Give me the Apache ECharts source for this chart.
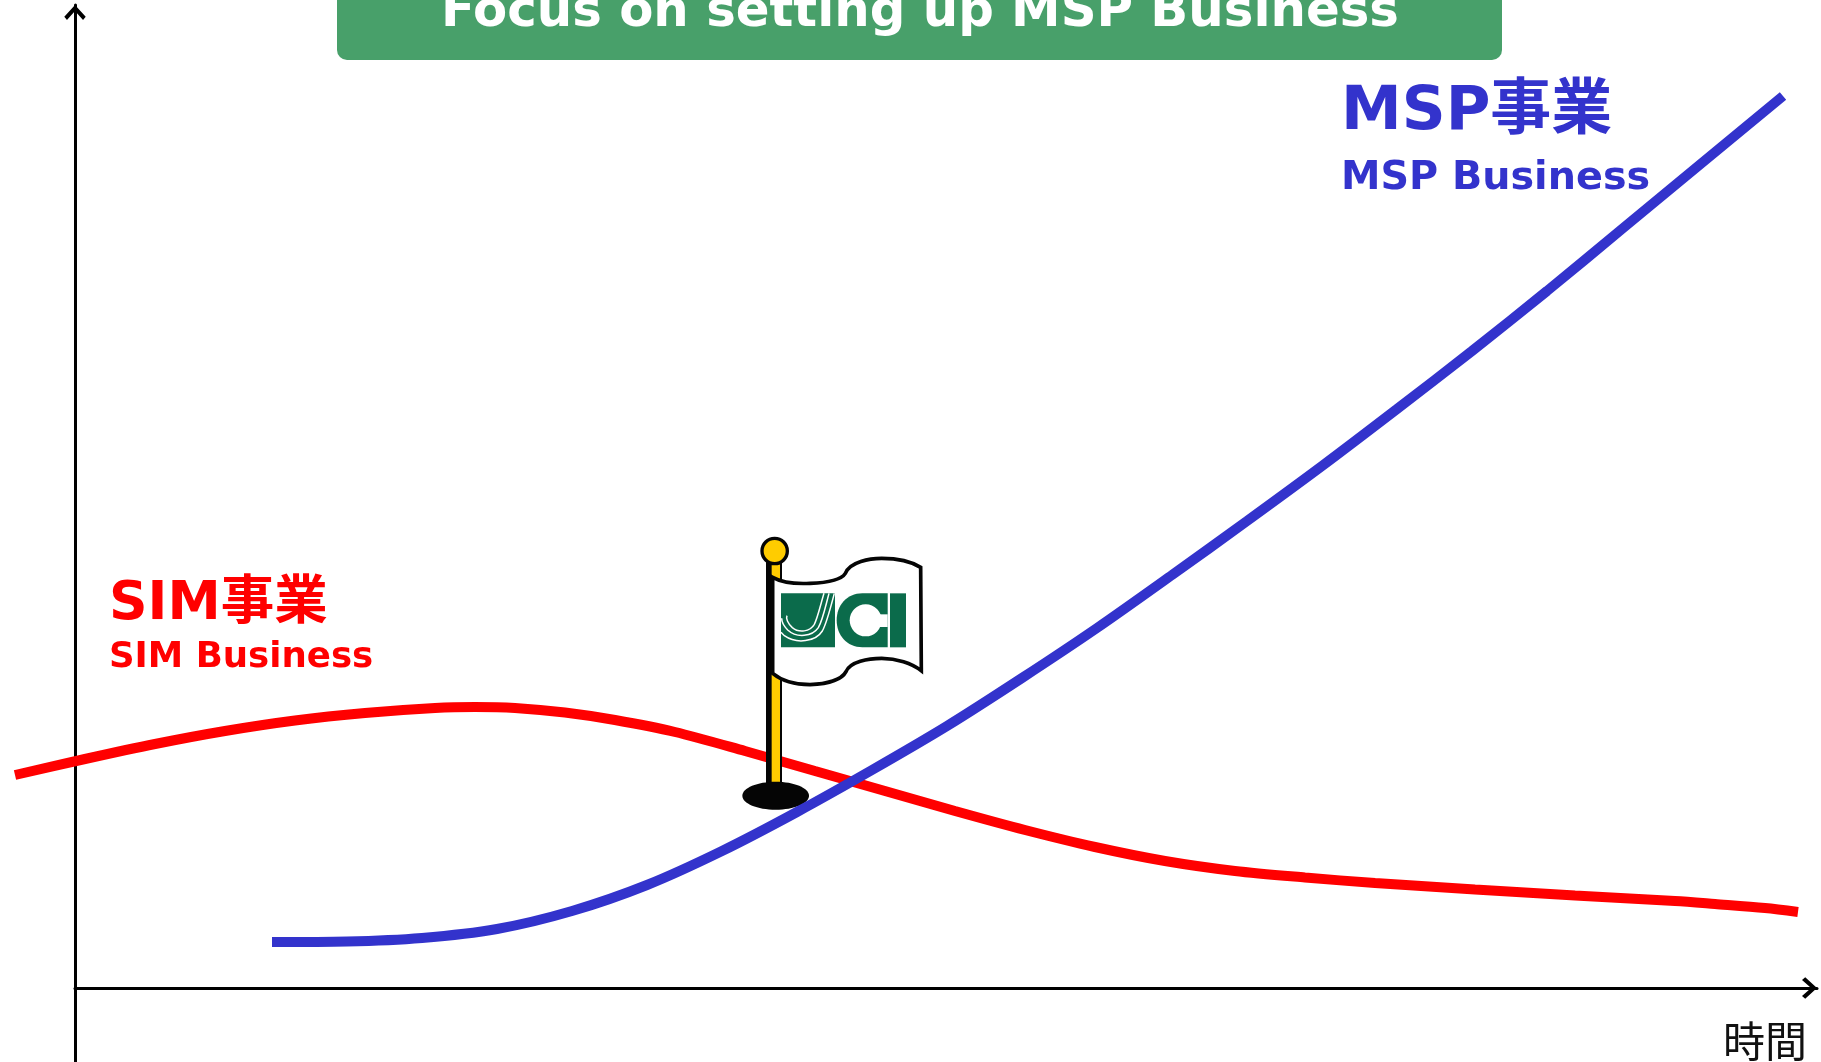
<!DOCTYPE html>
<html>
<head>
<meta charset="utf-8">
<style>html,body{margin:0;padding:0;background:#fff;overflow:hidden}#c{width:1821px;height:1062px}</style>
<script src="https://cdn.jsdelivr.net/npm/echarts@6/dist/echarts.min.js"></script>
</head>
<body>
<div id="c"></div>
<script>
// Values: [time, level] above the axis origin.
const simBusiness = [[-60,213],[10,229],[80,244],[150,257],[220,267.5],[290,275],[360,280],[400,281],[440,280],[490,275.5],[540,268],[600,256],[670,237],[740,217],[810,197],[880,177],[950,158],[1020,141],[1090,127],[1160,117],[1230,110.5],[1300,105],[1400,98.5],[1500,92.5],[1600,87],[1640,84],[1690,80],[1723,76]];
const mspBusiness = [[197,46],[272,46.5],[347,50],[422,59],[497,77],[572,103],[647,137],[722,176],[797,218],[872,262],[947,310],[1022,360],[1097,413],[1172,467],[1247,522],[1322,579],[1397,637],[1472,697],[1547,759],[1622,821],[1708,892]];
const timeLabel = '時間';
const bannerText = 'Focus on setting up MSP Business';
const simLabels = ['SIM事業', 'SIM Business'];
const mspLabels = ['MSP事業', 'MSP Business'];

const latin = '"DejaVu Sans","Noto Sans CJK JP",sans-serif';
const cjk = '"Noto Sans CJK JP",sans-serif';
const RED = '#FF0000', BLUE = '#3333CC', GREEN = '#48A06A', LOGO = '#0B6B4B';
const chevron = 'path://M0,11 L10,0 L20,11 L17.5,14 L10,5.5 L2.5,14 Z';

// Drawn shapes of the flag, registered so the graphic component can use them.
function reg(name, d){ echarts.graphic.registerShape(name, echarts.graphic.extendPath(d)); }
reg('flagCloth','M218,202 C250,220 290,222 330,220 C385,218 425,208 436,190 C450,155 510,145 545,145 C590,145 635,155 662,172 L664,482 C635,460 590,445 545,445 C505,445 450,455 438,485 C425,510 380,522 330,524 C285,524 245,512 218,490 Z');
reg('logoS1','M147,25 C135,65 128,98 118,118 C105,140 72,145 52,128 C38,115 32,100 36,92');
reg('logoS2','M162,25 C150,70 143,105 130,128 C112,155 65,160 38,135 C25,122 20,110 20,100');
reg('logoS3','M178,25 C165,75 155,115 142,138 C122,170 65,178 28,152 L18,142');
reg('logoC','M262,25 L338,25 L338,187 L262,187 C215,187 185,150 185,106 C185,62 215,25 262,25 Z');

const chart = echarts.init(document.getElementById('c'), null, {renderer:'canvas'});
function axisBase(){return {
  type:'value', splitLine:{show:false}, axisTick:{show:false}, axisLabel:{show:false},
  axisLine:{show:true, onZero:true, symbol:['none',chevron], symbolSize:[24,15], symbolOffset:[0,-7.5],
            lineStyle:{color:'#000', width:3}}
};}
const txt = (x,y,s,size,color,font,weight) => ({type:'text', z:10, x, y, silent:true,
  style:{text:s, fill:color, font:`${weight} ${size}px ${font}`}});
const stripe = {fill:'none',stroke:'#fff',lineWidth:4.5};
const flag = {
  type:'group', x:700, y:510, scaleX:1/3, scaleY:1/3, silent:true,
  children:[
    {type:'rect', z:3, shape:{x:200,y:130,width:44,height:700}, style:{fill:'#FFCC00'}},
    {type:'rect', z:3, shape:{x:198,y:130,width:17,height:700}, style:{fill:'#050505'}},
    {type:'rect', z:3, shape:{x:240,y:130,width:6,height:700}, style:{fill:'#050505'}},
    {type:'circle', z:3, shape:{cx:224,cy:123,r:38}, style:{fill:'#FFCC00',stroke:'#050505',lineWidth:10}},
    {type:'ellipse', z:3, shape:{cx:227,cy:857,rx:100,ry:42}, style:{fill:'#050505'}},
    {type:'flagCloth', z:3, style:{fill:'#fff',stroke:'#050505',lineWidth:11}},
    {type:'group', x:225, y:225, children:[
      {type:'rect', z:4, shape:{x:18,y:25,width:162,height:162}, style:{fill:LOGO}},
      {type:'logoS1', z:4, style:stripe},
      {type:'logoS2', z:4, style:stripe},
      {type:'logoS3', z:4, style:stripe},
      {type:'logoC', z:4, style:{fill:LOGO}},
      {type:'circle', z:4, shape:{cx:272,cy:106,r:48}, style:{fill:'#fff'}},
      {type:'rect', z:4, shape:{x:272,y:88,width:66,height:38}, style:{fill:'#fff'}},
      {type:'rect', z:4, shape:{x:345,y:25,width:48,height:162}, style:{fill:LOGO}}
    ]}
  ]
};
chart.setOption({
  animation:false,
  backgroundColor:'#fff',
  // Grid 0 carries the visible axes; grid 1 is the same scale widened to the page edge,
  // because the SIM curve starts left of the vertical axis.
  grid:[
    {left:75, top:5, right:4, bottom:0},
    {left:0, top:5, right:4, bottom:0}
  ],
  xAxis:[
    Object.assign(axisBase(),{gridIndex:0, min:0, max:1742, name:timeLabel, nameLocation:'end', nameGap:-52,
      nameTextStyle:{fontFamily:cjk, fontSize:42, color:'#111', align:'center', verticalAlign:'top', padding:[32,0,0,0]}}),
    {type:'value', gridIndex:1, min:-75, max:1742, show:false}
  ],
  yAxis:[
    Object.assign(axisBase(),{gridIndex:0, min:-74, max:983}),
    {type:'value', gridIndex:1, min:-74, max:983, show:false}
  ],
  graphic:[
    {type:'rect', z:8, silent:true, shape:{x:337,y:-20,width:1165,height:80,r:10}, style:{fill:GREEN}},
    txt(441,-12,bannerText,49.8,'#fff',latin,'bold'),
    txt(109,578,simLabels[0],53.5,RED,latin,'bold'),
    txt(109,640,simLabels[1],35.6,RED,latin,'bold'),
    txt(1341,83,mspLabels[0],61,BLUE,latin,'bold'),
    txt(1341,159,mspLabels[1],39.7,BLUE,latin,'bold'),
    flag
  ],
  series:[
    {name:simLabels[1], type:'line', xAxisIndex:1, yAxisIndex:1, data:simBusiness, smooth:0.3, showSymbol:false, clip:false, z:2, silent:true,
     lineStyle:{color:RED,width:10,cap:'butt'}},
    {name:mspLabels[1], type:'line', xAxisIndex:1, yAxisIndex:1, data:mspBusiness, smooth:0.3, showSymbol:false, clip:false, z:4, silent:true,
     lineStyle:{color:BLUE,width:10,cap:'butt'}}
  ]
});
</script>
</body>
</html>
